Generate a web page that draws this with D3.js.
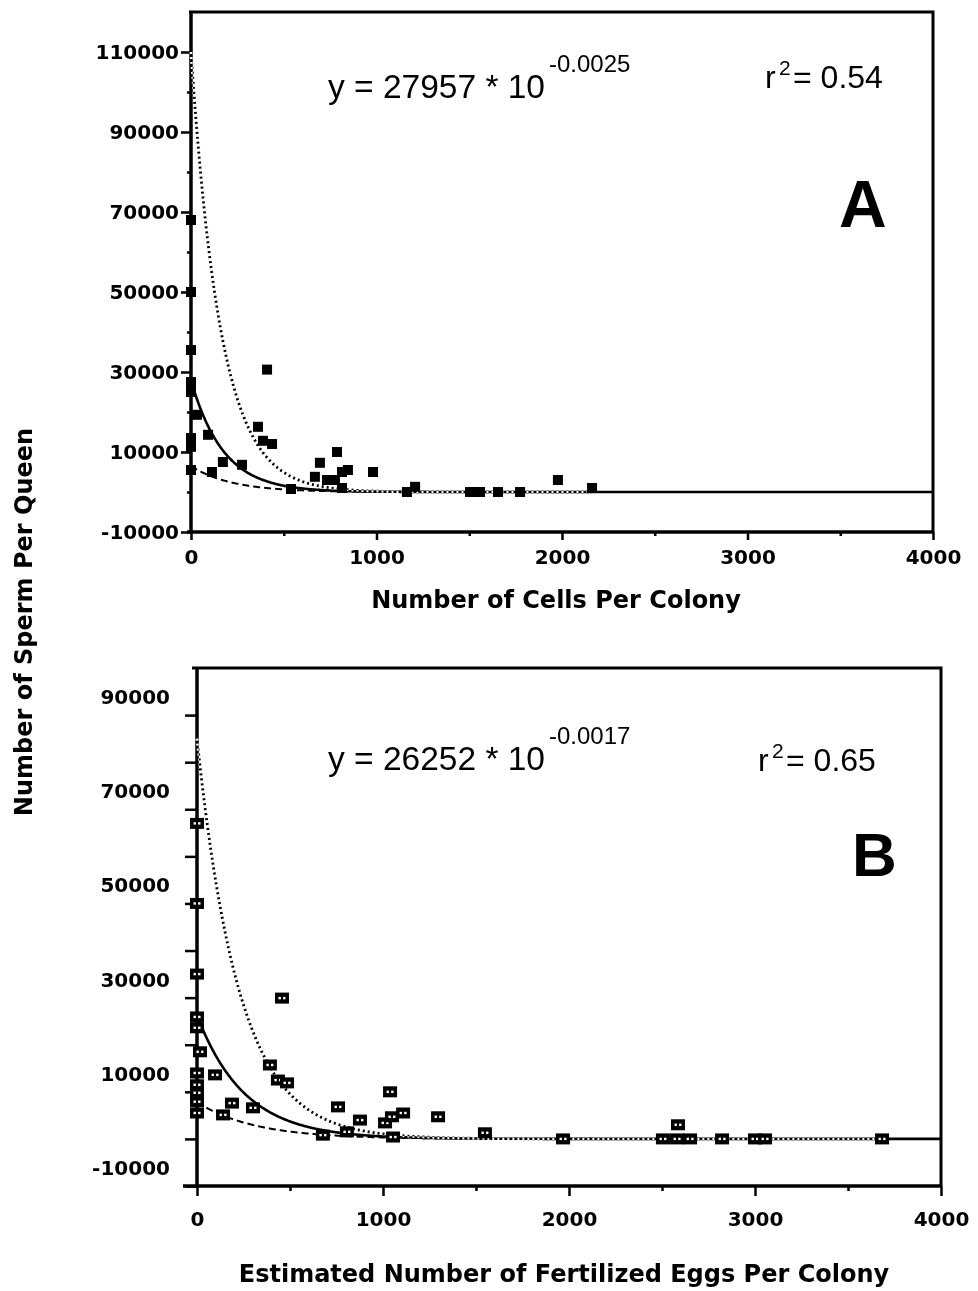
<!DOCTYPE html>
<html>
<head>
<meta charset="utf-8">
<script src="https://cdn.jsdelivr.net/npm/d3@7.9.0/dist/d3.min.js"></script>
<style>
  body { margin: 0; background: #fff; }
  svg { display: block; }
  .xor { mix-blend-mode: difference; }
</style>
</head>
<body>
<svg id="chart" width="978" height="1291"></svg>
<script>
// Panel A: cells per colony vs sperm per queen
const cellsA = [0, 0, 0, 0, 0, 0, 0, 0, 32, 92, 113, 172, 275, 361, 388, 410, 437, 539, 668, 695, 733, 776, 787, 814, 814, 846, 981, 1164, 1208, 1504, 1558, 1655, 1774, 1978, 2162];
const spermA = [68000, 50000, 35500, 27500, 25000, 13500, 11300, 5500, 19300, 14300, 5000, 7500, 6800, 16300, 12800, 30600, 12000, 750, 3800, 7300, 3000, 3000, 10000, 5000, 1000, 5500, 5000, 0, 1300, 0, 0, 0, 0, 3000, 1000];

// Panel B: estimated fertilized eggs per colony vs sperm per queen
const eggsB = [0, 0, 0, 0, 0, 16, 0, 0, 0, 0, 0, 97, 140, 188, 301, 392, 435, 457, 484, 677, 758, 806, 876, 1011, 1038, 1048, 1054, 1108, 1296, 1548, 1968, 2505, 2581, 2586, 2651, 2823, 3000, 3054, 3683];
const spermB = [67000, 50000, 35000, 25900, 23600, 18500, 14000, 11500, 9800, 7900, 5500, 13600, 5100, 7600, 6600, 15700, 12500, 29900, 11900, 800, 6800, 1500, 4000, 3400, 10000, 4700, 400, 5500, 4700, 1300, 0, 0, 0, 3000, 0, 0, 0, 0, 0];

// fitted curves  y = a * 10^(-b x)  and the two bounding curves
const fitA = [27957, 0.0025];
const upperA = [110000, 0.0027];
const lowerA = [6500, 0.002];
const fitB = [26252, 0.0017];
const upperB = [85000, 0.0019];
const lowerB = [7800, 0.0014];

// ticks
const xTicks = [0, 500, 1000, 1500, 2000, 2500, 3000, 3500, 4000];
const xLabels = [0, 1000, 2000, 3000, 4000];
const yTicksA = [-10000, 0, 10000, 20000, 30000, 40000, 50000, 60000, 70000, 80000, 90000, 100000, 110000];
const yLabelsA = [-10000, 10000, 30000, 50000, 70000, 90000, 110000];
const yTicksB = [-10000, 0, 10000, 20000, 30000, 40000, 50000, 60000, 70000, 80000, 90000];
const yLabelsB = [-10000, 10000, 30000, 50000, 70000, 90000];

const svg = d3.select("#chart");
svg.append("rect").attr("width", 978).attr("height", 1291).attr("fill", "#fff");

const tickFont = "'DejaVu Sans', sans-serif";
const textFont = "'Liberation Sans', Arial, sans-serif";

function drawPanel(p) {
    const x = d3.scaleLinear().domain([0, 4000]).range([p.left, p.right]);
    const y = d3.scaleLinear().domain(p.yDomain).range([p.bottom, p.top]);

    // frame: top and right
    svg.append("path")
        .attr("d", `M${p.left - p.topOver},${p.top}H${p.right}V${p.bottom}`)
        .attr("fill", "none").attr("stroke", "#000").attr("stroke-width", 3);

    // x axis
    const gx = svg.append("g")
        .attr("transform", `translate(0,${p.bottom})`)
        .call(d3.axisBottom(x).tickValues(xTicks).tickSize(p.xMajor).tickSizeOuter(0)
            .tickPadding(p.xPad).tickFormat(d => xLabels.includes(d) ? d : ""));
    gx.select(".domain").remove();
    gx.append("line").attr("x1", p.left - p.bottomOver).attr("x2", p.right)
        .attr("stroke", "#000").attr("stroke-width", 3.5);
    gx.selectAll(".tick line")
        .attr("y2", d => xLabels.includes(d) ? p.xMajor : p.xMinor)
        .attr("stroke-width", 2.5);
    gx.selectAll(".tick text")
        .attr("font-family", tickFont).attr("font-weight", "bold")
        .attr("font-size", 20).attr("fill", "#000");

    // y axis
    const gy = svg.append("g")
        .attr("transform", `translate(${p.left},0)`)
        .call(d3.axisLeft(y).tickValues(p.yTicks).tickSize(p.yMajor).tickSizeOuter(0)
            .tickPadding(p.yPad).tickFormat(d => p.yLabels.includes(d) ? d : ""));
    gy.select(".domain").remove();
    gy.append("line").attr("y1", p.top).attr("y2", p.bottom)
        .attr("stroke", "#000").attr("stroke-width", 3.5);
    gy.selectAll(".tick line")
        .attr("x2", d => p.yLabels.includes(d) ? -p.yMajor : -p.yMinor)
        .attr("stroke-width", 2.5);
    gy.selectAll(".tick text")
        .attr("font-family", tickFont).attr("font-weight", "bold")
        .attr("font-size", 20).attr("fill", "#000")
        .attr("y", p.yLabelShift);

    // curves: fit and lower drawn in black, upper xor'ed over them like the old plotter
    const xmax = d3.max(p.xs);
    const curve = (params, xEnd, dash, width, xor) => {
        const pts = d3.range(0, xEnd, 4).concat([xEnd]);
        const line = d3.line()
            .x(d => x(d))
            .y(d => y(params[0] * Math.pow(10, -params[1] * d)));
        svg.append("path")
            .attr("class", xor ? "xor" : null)
            .attr("d", line(pts))
            .attr("fill", "none")
            .attr("stroke", xor ? "#fff" : "#000")
            .attr("stroke-width", width)
            .attr("stroke-dasharray", dash);
    };
    curve(p.fit, 4000, null, 2.6, false);
    curve(p.lower, xmax, "7,4", 2, false);
    curve(p.upper, xmax, "2,3", 2.8, true);

    // points
    const pts = p.xs.map((d, i) => [d, p.ys[i]]);
    if (p.hollow) {
        const g = svg.append("g").selectAll("g").data(pts).join("g")
            .attr("transform", d => `translate(${x(d[0])},${y(d[1])})`);
        g.append("rect").attr("x", -7).attr("y", -5.5).attr("width", 14).attr("height", 11).attr("fill", "#000");
        g.append("rect").attr("x", -3.5).attr("y", -1.2).attr("width", 2.4).attr("height", 2.4).attr("fill", "#fff");
        g.append("rect").attr("x", 1.1).attr("y", -1.2).attr("width", 2.4).attr("height", 2.4).attr("fill", "#fff");
    } else {
        svg.append("g").selectAll("rect").data(pts).join("rect")
            .attr("x", d => x(d[0]) - 5).attr("y", d => y(d[1]) - 5)
            .attr("width", 10).attr("height", 10).attr("fill", "#000");
    }

    // equation
    const eq = svg.append("text").attr("x", 328).attr("y", p.eqY)
        .attr("font-family", textFont).attr("font-size", 33.5)
        .text(p.eq);
    const eqEnd = 328 + eq.node().getComputedTextLength();
    svg.append("text").attr("x", eqEnd + 4).attr("y", p.eqY - 26)
        .attr("font-family", textFont).attr("font-size", 24)
        .text(p.sup);
    // r squared
    const r = svg.append("text").attr("y", p.rY)
        .attr("font-family", textFont).attr("font-size", 32);
    r.append("tspan").attr("x", p.rX).text("r");
    r.append("tspan").attr("x", p.rX + 14).attr("dy", -13).attr("font-size", 21).text("2");
    r.append("tspan").attr("x", p.rX + 28).attr("dy", 13).text("= " + p.r2);
    // panel letter
    svg.append("text").attr("x", p.letterX).attr("y", p.letterY)
        .attr("font-family", textFont).attr("font-weight", "bold").attr("font-size", p.letterSize)
        .text(p.letter);
    // x title
    svg.append("text").attr("x", p.titleX).attr("y", p.titleY)
        .attr("text-anchor", "middle")
        .attr("font-family", tickFont).attr("font-weight", "bold").attr("font-size", 24)
        .text(p.title);
}

drawPanel({
    left: 191, right: 933, top: 12, bottom: 532, yDomain: [-10000, 120000],
    topOver: 2, bottomOver: 4,
    xMajor: 8, xMinor: 4, xPad: 10,
    yTicks: yTicksA, yLabels: yLabelsA, yMajor: 10, yMinor: 4, yPad: 2, yLabelShift: 0,
    xs: cellsA, ys: spermA, fit: fitA, upper: upperA, lower: lowerA, hollow: false,
    eq: "y = 27957 * 10", sup: "-0.0025", eqY: 98,
    rX: 765, rY: 88, r2: "0.54",
    letter: "A", letterX: 839, letterY: 227, letterSize: 66,
    title: "Number of Cells Per Colony", titleX: 556, titleY: 608
});

drawPanel({
    left: 197, right: 941, top: 668, bottom: 1186, yDomain: [-10000, 100000],
    topOver: 5, bottomOver: 14,
    xMajor: 10, xMinor: 5, xPad: 16,
    yTicks: yTicksB, yLabels: yLabelsB, yMajor: 12, yMinor: 12, yPad: 15, yLabelShift: -18,
    xs: eggsB, ys: spermB, fit: fitB, upper: upperB, lower: lowerB, hollow: true,
    eq: "y = 26252 * 10", sup: "-0.0017", eqY: 770,
    rX: 758, rY: 771, r2: "0.65",
    letter: "B", letterX: 852, letterY: 876, letterSize: 62,
    title: "Estimated Number of Fertilized Eggs Per Colony", titleX: 564, titleY: 1282
});

// shared y title
svg.append("text")
    .attr("transform", "translate(32,622) rotate(-90)")
    .attr("text-anchor", "middle")
    .attr("font-family", tickFont).attr("font-weight", "bold").attr("font-size", 24)
    .text("Number of Sperm Per Queen");
</script>
</body>
</html>
